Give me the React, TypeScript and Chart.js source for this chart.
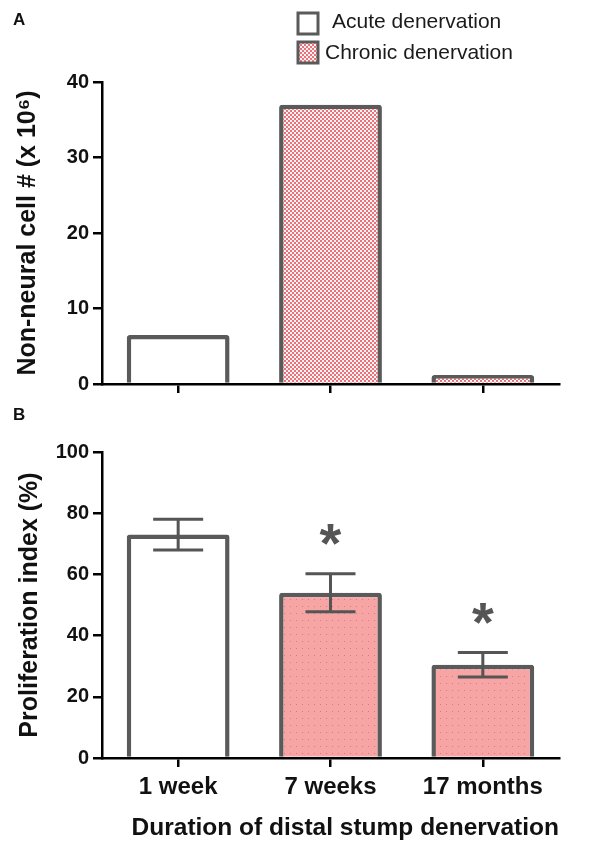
import React, { useEffect, useRef } from "react";
import { Chart, registerables } from "chart.js";

Chart.register(...registerables);

// ---------- data ----------
const categories = ["1 week", "7 weeks", "17 months"];
const groups = ["acute", "chronic", "chronic"];
const legendLabels = ["Acute denervation", "Chronic denervation"];

const cellCounts = [6.5, 37, 1.2]; // Non-neural cell # (x 10^6)
const cellTicks = [0, 10, 20, 30, 40];

const proliferation = [73, 54, 30.5]; // %
const proliferationErr = [5, 6.2, 4];
const significant = [false, true, true];
const proliferationTicks = [0, 20, 40, 60, 80, 100];

// ---------- styles ----------
const FONT = "'Liberation Sans', Arial, Helvetica, sans-serif";
const BORDER = "#5a5a5a";
const W = 613;

function makeChecker(): CanvasPattern {
  const c = document.createElement("canvas");
  c.width = 4;
  c.height = 4;
  const ctx = c.getContext("2d")!;
  ctx.fillStyle = "#fff2f2";
  ctx.fillRect(0, 0, 4, 4);
  ctx.fillStyle = "#e9727b";
  ctx.fillRect(0, 0, 2, 2);
  ctx.fillRect(2, 2, 2, 2);
  return ctx.createPattern(c, "repeat")!;
}

function makeDots(): CanvasPattern {
  const c = document.createElement("canvas");
  c.width = 6;
  c.height = 7;
  const ctx = c.getContext("2d")!;
  ctx.fillStyle = "#f6a4a4";
  ctx.fillRect(0, 0, 6, 7);
  ctx.fillStyle = "#cf7d7d";
  ctx.fillRect(2, 3, 1, 1);
  return ctx.createPattern(c, "repeat")!;
}

function yAxis(ticks: number[], title: string, titlePad: number) {
  return {
    min: ticks[0],
    max: ticks[ticks.length - 1],
    afterBuildTicks: (s: any) => {
      s.ticks = ticks.map((v) => ({ value: v }));
    },
    afterFit: (s: any) => {
      s.width = 102;
    },
    ticks: {
      color: "#111",
      padding: 4,
      font: { family: FONT, size: 20, weight: "bold" as const },
    },
    grid: {
      drawOnChartArea: false,
      drawTicks: true,
      tickLength: 9,
      color: "#000",
      lineWidth: 2.5,
    },
    border: { display: true, color: "#000", width: 2.5 },
    title: {
      display: true,
      text: title,
      color: "#111",
      font: { family: FONT, size: 25, weight: "bold" as const },
      padding: { top: titlePad, bottom: 0 },
    },
  };
}

const panelLabel = (label: string, baseline: number) => ({
  id: "panelLabel" + label,
  afterDraw(chart: any) {
    const ctx = chart.ctx;
    ctx.save();
    ctx.fillStyle = "#111";
    ctx.font = `bold 17px ${FONT}`;
    ctx.textBaseline = "alphabetic";
    ctx.textAlign = "left";
    ctx.fillText(label, 13, baseline);
    ctx.restore();
  },
});

export default function App() {
  const refA = useRef<HTMLCanvasElement>(null);
  const refB = useRef<HTMLCanvasElement>(null);

  useEffect(() => {
    const checker = makeChecker();
    const dots = makeDots();

    const legendPlugin = {
      id: "customLegend",
      afterDraw(chart: any) {
        const ctx = chart.ctx;
        ctx.save();
        const items = [
          { fill: "#ffffff", label: legendLabels[0], boxY: 13, textX: 332, textY: 22 },
          { fill: checker, label: legendLabels[1], boxY: 42, textX: 325, textY: 53 },
        ];
        items.forEach((it) => {
          ctx.fillStyle = it.fill;
          ctx.fillRect(298, it.boxY, 20, 21);
          ctx.strokeStyle = BORDER;
          ctx.lineWidth = 3;
          ctx.strokeRect(298, it.boxY, 20, 21);
          ctx.fillStyle = "#1a1a1a";
          ctx.font = `21px ${FONT}`;
          ctx.textBaseline = "middle";
          ctx.textAlign = "left";
          ctx.fillText(it.label, it.textX, it.textY);
        });
        ctx.restore();
      },
    };

    const chartA = new Chart(refA.current!, {
      type: "bar",
      data: {
        labels: categories,
        datasets: [
          {
            data: cellCounts,
            backgroundColor: groups.map((g) => (g === "acute" ? "#ffffff" : checker)),
            borderColor: BORDER,
            borderWidth: 4.5,
            borderRadius: 3,
            categoryPercentage: 1,
            barPercentage: 0.675,
          },
        ],
      },
      options: {
        responsive: false,
        animation: false,
        layout: { padding: { left: 0, right: 54, top: 82, bottom: 0 } },
        plugins: { legend: { display: false }, tooltip: { enabled: false } },
        scales: {
          x: {
            afterFit: (s: any) => {
              s.height = 13;
            },
            ticks: { display: false },
            grid: {
              offset: false,
              drawOnChartArea: false,
              drawTicks: true,
              tickLength: 9,
              color: "#000",
              lineWidth: 2.5,
            },
            border: { display: true, color: "#000", width: 2.5 },
          },
          y: yAxis(cellTicks, "Non-neural cell # (x 10\u2076)", 13),
        },
      } as any,
      plugins: [legendPlugin, panelLabel("A", 25)],
    });

    const errorPlugin = {
      id: "errorBars",
      afterDatasetsDraw(chart: any) {
        const ctx = chart.ctx;
        const meta = chart.getDatasetMeta(0);
        const ys = chart.scales.y;
        ctx.save();
        ctx.strokeStyle = "#555";
        ctx.lineWidth = 3;
        proliferation.forEach((v, i) => {
          const x = meta.data[i].x;
          const up = ys.getPixelForValue(v + proliferationErr[i]);
          const lo = ys.getPixelForValue(v - proliferationErr[i]);
          ctx.beginPath();
          ctx.moveTo(x, up);
          ctx.lineTo(x, lo);
          ctx.moveTo(x - 25, up);
          ctx.lineTo(x + 25, up);
          ctx.moveTo(x - 25, lo);
          ctx.lineTo(x + 25, lo);
          ctx.stroke();
          if (significant[i]) {
            ctx.fillStyle = "#555";
            ctx.font = `bold 56px ${FONT}`;
            ctx.textAlign = "center";
            ctx.textBaseline = "alphabetic";
            const m = ctx.measureText("*");
            const asc = m.actualBoundingBoxAscent;
            const desc = m.actualBoundingBoxDescent;
            const centerY = up - 39;
            ctx.fillText("*", x, centerY + (asc - desc) / 2);
          }
        });
        ctx.restore();
      },
    };

    const chartB = new Chart(refB.current!, {
      type: "bar",
      data: {
        labels: categories,
        datasets: [
          {
            data: proliferation,
            backgroundColor: groups.map((g) => (g === "acute" ? "#ffffff" : dots)),
            borderColor: BORDER,
            borderWidth: 4.5,
            borderRadius: 3,
            categoryPercentage: 1,
            barPercentage: 0.675,
          },
        ],
      },
      options: {
        responsive: false,
        animation: false,
        layout: { padding: { left: 0, right: 54, top: 52, bottom: 0 } },
        plugins: { legend: { display: false }, tooltip: { enabled: false } },
        scales: {
          x: {
            afterFit: (s: any) => {
              s.height = 92;
            },
            ticks: {
              color: "#111",
              padding: 6,
              maxRotation: 0,
              font: { family: FONT, size: 24, weight: "bold" as const },
            },
            grid: {
              offset: false,
              drawOnChartArea: false,
              drawTicks: true,
              tickLength: 9,
              color: "#000",
              lineWidth: 2.5,
            },
            border: { display: true, color: "#000", width: 2.5 },
            title: {
              display: true,
              text: "Duration of distal stump denervation",
              align: "end",
              color: "#111",
              font: { family: FONT, size: 24.5, weight: "bold" as const },
              padding: { top: 0, bottom: 7 },
            },
          },
          y: yAxis(proliferationTicks, "Proliferation index (%)", 15),
        },
      } as any,
      plugins: [errorPlugin, panelLabel("B", 20)],
    });

    return () => {
      chartA.destroy();
      chartB.destroy();
    };
  }, []);

  return (
    <div style={{ position: "absolute", left: 0, top: 0, width: W, height: 850, background: "#fff" }}>
      <canvas
        ref={refA}
        width={W}
        height={400}
        style={{ position: "absolute", left: 0, top: 0, width: W, height: 400 }}
      />
      <canvas
        ref={refB}
        width={W}
        height={450}
        style={{ position: "absolute", left: 0, top: 400, width: W, height: 450 }}
      />
    </div>
  );
}
